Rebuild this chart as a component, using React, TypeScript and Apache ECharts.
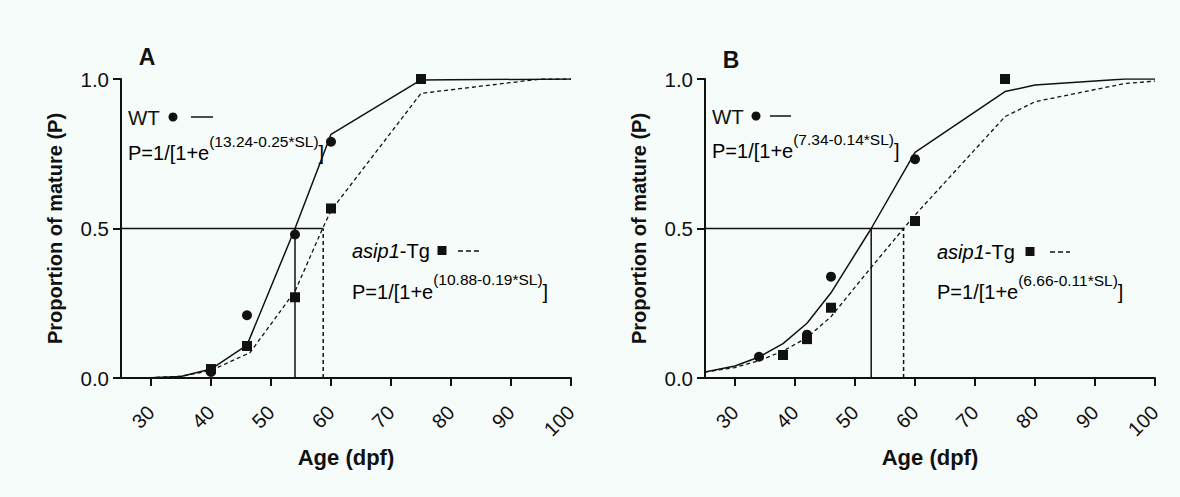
import React, { useEffect, useRef } from "react";
import * as echarts from "echarts";

const AGE_TICKS = [30, 40, 50, 60, 70, 80, 90, 100];

// Panel A
const A_WT_AGE = [40, 46, 54, 60, 75];
const A_WT_P = [0.02, 0.21, 0.48, 0.79, 1.0];
const A_TG_AGE = [40, 46, 54, 60, 75];
const A_TG_P = [0.03, 0.107, 0.27, 0.567, 1.0];
const A_WT_FIT_AGE = [25, 30, 35, 40, 46, 54, 58.2, 60, 75, 100];
const A_WT_FIT_P = [0, 0.001, 0.005, 0.03, 0.11, 0.5, 0.72, 0.815, 0.997, 1.0];
const A_TG_FIT_AGE = [25, 30, 35, 40, 46.5, 54, 58.6, 60, 75, 95, 100];
const A_TG_FIT_P = [0, 0.001, 0.006, 0.025, 0.085, 0.29, 0.5, 0.56, 0.952, 1.0, 1.0];
const A_HALF_END = 58.7;
const A_WT_HALF = 54;
const A_TG_HALF = 58.7;

// Panel B
const B_WT_AGE = [34, 42, 46, 60, 75];
const B_WT_P = [0.071, 0.145, 0.339, 0.732, 1.0];
const B_TG_AGE = [38, 42, 46, 60, 75];
const B_TG_P = [0.077, 0.13, 0.235, 0.525, 1.0];
const B_WT_FIT_AGE = [25, 30, 34, 38, 42, 46, 52.7, 60, 75, 80, 95, 100];
const B_WT_FIT_P = [0.02, 0.04, 0.07, 0.115, 0.183, 0.285, 0.5, 0.755, 0.958, 0.98, 1.0, 1.0];
const B_TG_FIT_AGE = [25, 30, 34, 38, 42, 46, 52.7, 58.1, 60, 75, 80, 95, 100];
const B_TG_FIT_P = [0.02, 0.035, 0.058, 0.09, 0.135, 0.205, 0.37, 0.5, 0.545, 0.874, 0.924, 0.985, 0.993];
const B_HALF_END = 58.1;
const B_WT_HALF = 52.7;
const B_TG_HALF = 58.1;

const FONT = "'Liberation Sans', Arial, Helvetica, sans-serif";
const INK = "#111111";

const zip = (xs: number[], ys: number[]) => xs.map((x, i) => [x, ys[i]]);

function panelSeries(idx: number, d: any) {
  const base = { xAxisIndex: idx, yAxisIndex: idx, silent: true };
  const refLine = (data: number[][], dashed: boolean) => ({
    ...base,
    type: "line",
    data,
    symbol: "none",
    lineStyle: { color: INK, width: 1.5, type: dashed ? [4, 3] : "solid" },
    z: 2,
  });
  return [
    refLine([[25, 0.5], [d.halfEnd, 0.5]], false),
    refLine([[d.wtHalf, 0], [d.wtHalf, 0.5]], false),
    refLine([[d.tgHalf, 0], [d.tgHalf, 0.5]], true),
    {
      ...base,
      type: "line",
      data: zip(d.wtFitAge, d.wtFitP),
      symbol: "none",
      lineStyle: { color: INK, width: 1.5 },
      z: 3,
    },
    {
      ...base,
      type: "line",
      data: zip(d.tgFitAge, d.tgFitP),
      symbol: "none",
      lineStyle: { color: INK, width: 1.3, type: [4, 3] },
      z: 3,
    },
    {
      ...base,
      type: "scatter",
      data: zip(d.wtAge, d.wtP),
      symbol: "circle",
      symbolSize: 10,
      itemStyle: { color: INK, opacity: 1 },
      z: 4,
    },
    {
      ...base,
      type: "scatter",
      data: zip(d.tgAge, d.tgP),
      symbol: "rect",
      symbolSize: 10,
      itemStyle: { color: INK, opacity: 1 },
      z: 5,
    },
  ];
}

function xAxis(idx: number) {
  return {
    type: "value",
    gridIndex: idx,
    min: 25,
    max: 100,
    name: "Age (dpf)",
    nameLocation: "middle",
    nameGap: 62,
    nameTextStyle: { fontFamily: FONT, fontSize: 22, fontWeight: "bold", color: INK },
    axisLine: { show: true, onZero: false, lineStyle: { color: INK, width: 2 } },
    axisTick: { show: true, length: 8, lineStyle: { color: INK, width: 2 }, customValues: AGE_TICKS },
    axisLabel: {
      customValues: AGE_TICKS,
      rotate: 45,
      margin: 31,
      fontFamily: FONT,
      fontSize: 20,
      color: INK,
    },
    splitLine: { show: false },
  };
}

function yAxis(idx: number) {
  return {
    type: "value",
    gridIndex: idx,
    min: 0,
    max: 1,
    interval: 0.5,
    name: "Proportion of mature (P)",
    nameLocation: "middle",
    nameGap: 56,
    nameTextStyle: { fontFamily: FONT, fontSize: 20, fontWeight: "bold", color: INK },
    axisLine: { show: true, lineStyle: { color: INK, width: 2 } },
    axisTick: { show: true, length: 8, lineStyle: { color: INK, width: 2 } },
    axisLabel: {
      margin: 12,
      fontFamily: FONT,
      fontSize: 20.5,
      color: INK,
      formatter: (v: number) => v.toFixed(1),
    },
    splitLine: { show: false },
  };
}

function formula(x: number, y: number, a: string, b: string) {
  return {
    type: "text",
    x,
    y,
    style: {
      text: `{a|P=1/[1+e}{b|${a}-${b}*SL)}{a|]}`,
      verticalAlign: "middle",
      rich: {
        a: { fontFamily: FONT, fontSize: 20, color: INK, lineHeight: 30, verticalAlign: "bottom" },
        b: { fontFamily: FONT, fontSize: 15.5, color: INK, lineHeight: 30, verticalAlign: "top" },
      },
    },
  };
}

function wtLegend(x: number, y: number, cx: number, l1: number, l2: number) {
  return [
    { type: "text", x, y, style: { text: "WT", fontFamily: FONT, fontSize: 20.5, fill: INK, verticalAlign: "middle" } },
    { type: "circle", shape: { cx, cy: y, r: 4.5 }, style: { fill: INK } },
    { type: "line", shape: { x1: l1, y1: y, x2: l2, y2: y }, style: { stroke: INK, lineWidth: 1.5 } },
  ];
}

function tgLegend(x: number, y: number, sx: number, l1: number, l2: number) {
  return [
    {
      type: "text",
      x,
      y,
      style: {
        text: "{i|asip1}{n|-Tg}",
        verticalAlign: "middle",
        rich: {
          i: { fontFamily: FONT, fontSize: 20, fontStyle: "italic", color: INK },
          n: { fontFamily: FONT, fontSize: 20, color: INK },
        },
      },
    },
    { type: "rect", shape: { x: sx - 4.5, y: y - 5, width: 9, height: 9 }, style: { fill: INK } },
    { type: "line", shape: { x1: l1, y1: y, x2: l2, y2: y }, style: { stroke: INK, lineWidth: 1.3, lineDash: [5, 3] } },
  ];
}

export default function App() {
  const ref = useRef<HTMLDivElement>(null);
  useEffect(() => {
    document.body.style.margin = "0";
    if (!ref.current) return;
    const chart = echarts.init(ref.current, undefined, { renderer: "svg" });
    const A = {
      wtAge: A_WT_AGE, wtP: A_WT_P, tgAge: A_TG_AGE, tgP: A_TG_P,
      wtFitAge: A_WT_FIT_AGE, wtFitP: A_WT_FIT_P, tgFitAge: A_TG_FIT_AGE, tgFitP: A_TG_FIT_P,
      halfEnd: A_HALF_END, wtHalf: A_WT_HALF, tgHalf: A_TG_HALF,
    };
    const B = {
      wtAge: B_WT_AGE, wtP: B_WT_P, tgAge: B_TG_AGE, tgP: B_TG_P,
      wtFitAge: B_WT_FIT_AGE, wtFitP: B_WT_FIT_P, tgFitAge: B_TG_FIT_AGE, tgFitP: B_TG_FIT_P,
      halfEnd: B_HALF_END, wtHalf: B_WT_HALF, tgHalf: B_TG_HALF,
    };
    chart.setOption({
      animation: false,
      backgroundColor: "#f6fcf9",
      grid: [
        { left: 121, top: 79, width: 450, height: 299 },
        { left: 705, top: 79, width: 450, height: 299 },
      ],
      xAxis: [xAxis(0), xAxis(1)],
      yAxis: [yAxis(0), yAxis(1)],
      series: [...panelSeries(0, A), ...panelSeries(1, B)],
      graphic: [
        { type: "text", x: 147, y: 57, style: { text: "A", fontFamily: FONT, fontSize: 23, fontWeight: "bold", fill: INK, align: "center", verticalAlign: "middle" } },
        { type: "text", x: 731, y: 60, style: { text: "B", fontFamily: FONT, fontSize: 23, fontWeight: "bold", fill: INK, align: "center", verticalAlign: "middle" } },
        ...wtLegend(128, 117, 173, 191, 213),
        formula(128, 148, "(13.24", "0.25"),
        ...tgLegend(352, 251, 442, 458, 479),
        formula(352, 286.5, "(10.88", "0.19"),
        ...wtLegend(712, 116, 756, 770, 791),
        formula(712, 146, "(7.34", "0.14"),
        ...tgLegend(937, 252, 1030, 1050, 1070),
        formula(937, 287, "(6.66", "0.11"),
      ],
    });
    return () => chart.dispose();
  }, []);
  return <div ref={ref} style={{ width: 1180, height: 497 }} />;
}
